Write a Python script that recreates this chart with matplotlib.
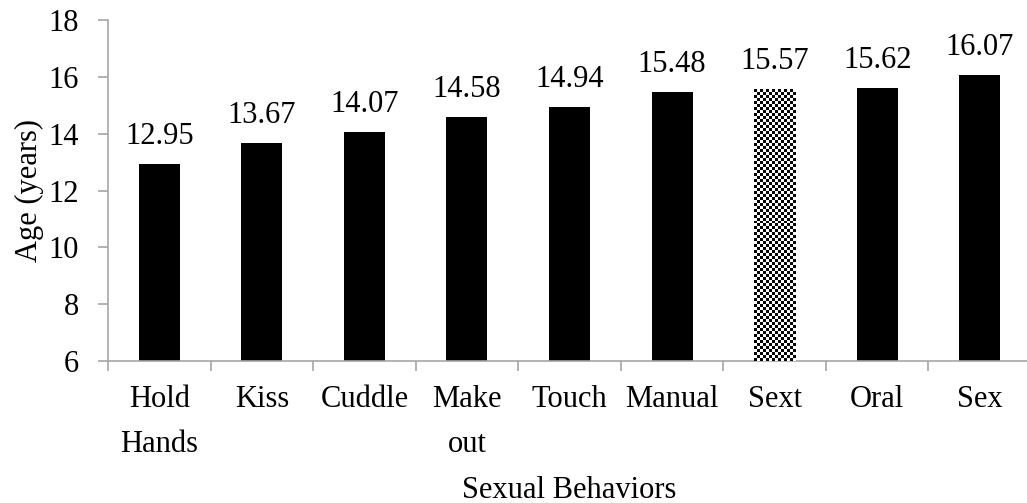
import numpy as np
import matplotlib
matplotlib.use("Agg")
import matplotlib.pyplot as plt

categories = ["Hold\nHands", "Kiss", "Cuddle", "Make\nout", "Touch", "Manual", "Sext", "Oral", "Sex"]
values = [12.95, 13.67, 14.07, 14.58, 14.94, 15.48, 15.57, 15.62, 16.07]
labels = ["12.95", "13.67", "14.07", "14.58", "14.94", "15.48", "15.57", "15.62", "16.07"]
patterned = "Sext"

plt.rcParams['font.family'] = ['Liberation Serif', 'DejaVu Serif']
FS = 22
W, H = 1027, 503
fig = plt.figure(figsize=(W / 100, H / 100), dpi=100)
ax = fig.add_axes([108 / W, (H - 361) / H, 923 / W, 341 / H])

x = np.arange(len(categories))
bars = ax.bar(x, [v - 6 for v in values], bottom=6, width=0.4, color="black", zorder=2)

ax.set_xlim(-0.5, len(categories) - 0.5)
ax.set_ylim(6, 18)
ax.set_yticks(np.arange(6, 19, 2))
ax.set_xticks(x)
ax.set_xticklabels(categories, fontsize=FS, linespacing=1.75)
ax.set_xticks(np.arange(-0.5, len(categories) - 0.4, 1), minor=True)
ax.tick_params(axis='x', which='major', length=0, pad=17)
ax.tick_params(axis='x', which='minor', length=7, width=1.2, color="#a6a6a6", direction='out')
ax.tick_params(axis='y', length=7, width=1.2, color="#a6a6a6", direction='out', labelsize=FS, pad=14)

for s in ["top", "right"]:
    ax.spines[s].set_visible(False)
for s in ["left", "bottom"]:
    ax.spines[s].set_color("#a6a6a6")
    ax.spines[s].set_linewidth(1.2)

for xi, v, lab in zip(x, values, labels):
    ax.annotate(lab, (xi, v), xytext=(0, 14.4), textcoords="offset points",
                ha="center", va="baseline", fontsize=FS)

ax.set_ylabel("Age (years)", fontsize=FS, labelpad=3)
ax.set_xlabel("Sexual Behaviors", fontsize=FS, labelpad=12)

# checkerboard pattern for the Sext bar
fig.canvas.draw()
idx = categories.index(patterned)
bar = bars[idx]
bb = bar.get_window_extent()
cell = 3.0
nx = max(1, int(round(bb.width / cell)))
ny = max(1, int(round(bb.height / cell)))
checker = (np.add.outer(np.arange(ny), np.arange(nx)) % 2).astype(float)
bar.set_facecolor("white")
x0, y0 = bar.get_x(), bar.get_y()
im = ax.imshow(checker, cmap="gray", interpolation="nearest", aspect="auto",
               extent=(x0, x0 + bar.get_width(), y0, y0 + bar.get_height()), zorder=3)
im.set_clip_path(bar)
ax.set_xlim(-0.5, len(categories) - 0.5)
ax.set_ylim(6, 18)

fig.savefig("out.png", dpi=100)
